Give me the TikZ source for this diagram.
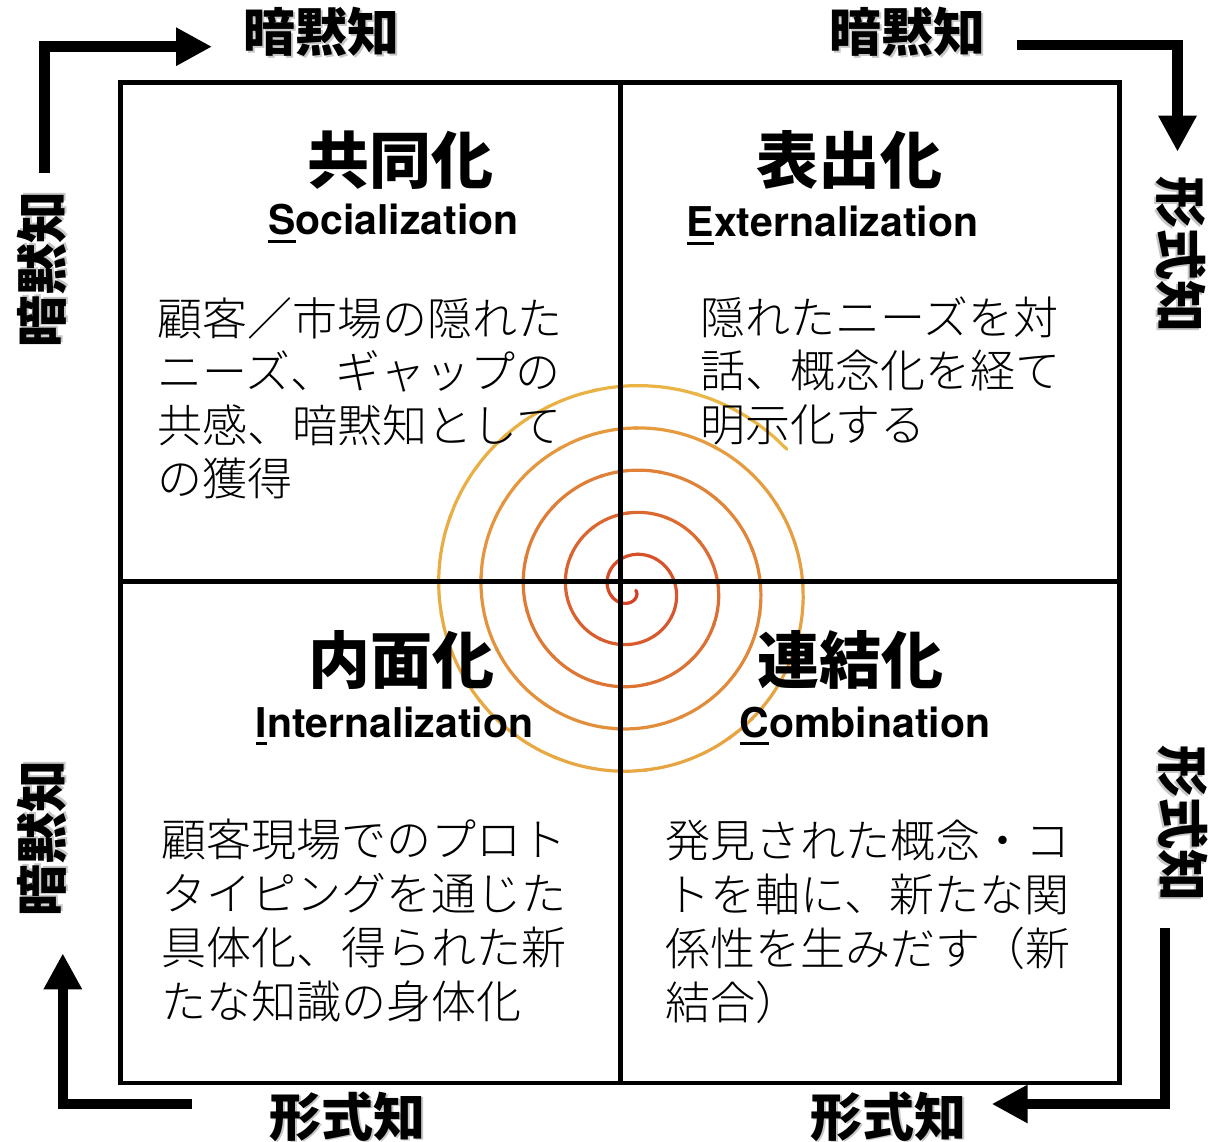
\documentclass[tikz,border=0pt]{standalone}
\usepackage{fontspec}
\usetikzlibrary{arrows.meta}

% Japanese faces: a light weight for running text when available
\IfFontExistsTF{Noto Sans CJK JP Light}
  {\newfontfamily\jplight{Noto Sans CJK JP Light}}
  {\newfontfamily\jplight{Noto Sans CJK JP}}
\newfontfamily\jp{Noto Sans CJK JP}
\newfontfamily\latinsans{TeX Gyre Heros}

% first letter underlined with a heavy bar
\newcommand\firstul[1]{\setbox0\hbox{#1}\rlap{\rule[-8pt]{\wd0}{3pt}}\box0}
% text with a soft grey drop shadow
\newcommand\shadowed[1]{\rlap{\hspace{1.8pt}\raisebox{-1.8pt}{\textcolor{black!22}{#1}}}#1}

\tikzset{
  frame/.style={line width=4.8pt, draw=black},
  flow/.style={line width=10.5pt, line join=miter, draw=black,
    -{Triangle[length=36pt,width=36pt]}},
  kind/.style={font=\jp\bfseries\fontsize{52}{60}\selectfont, inner sep=0pt, anchor=base},
  title/.style={font=\jp\bfseries\fontsize{62}{70}\selectfont, inner sep=0pt, anchor=base},
  mode/.style={font=\latinsans\bfseries\fontsize{41}{48}\selectfont, inner sep=0pt, anchor=base},
  % multi-line text blocks are placed by the baseline of their last line
  body/.style={font=\jplight\fontsize{45}{53.5}\selectfont, inner sep=0pt,
    anchor=base west, align=left},
  bodyloose/.style={font=\jplight\fontsize{45}{54}\selectfont},
  spiralline/.style={line width=3.2pt, line cap=round, line join=round},
}

\begin{document}
\begin{tikzpicture}[x=1pt, y=-1pt]
  \useasboundingbox (0,0) rectangle (1211,1142);
  \fill[white] (0,0) rectangle (1211,1142);

  % knowledge spiral (Archimedean, clockwise outwards, red core to golden rim)
  \foreach \k in {0,...,59}{
    \pgfmathsetmacro\ta{0.05+\k*0.0805}
    \pgfmathsetmacro\tb{\ta+0.0835}
    \pgfmathtruncatemacro\cr{212+22*\k/59}
    \pgfmathtruncatemacro\cg{62+120*\k/59}
    \pgfmathtruncatemacro\cb{38+32*\k/59}
    \definecolor{segc}{RGB}{\cr,\cg,\cb}
    \draw[spiralline, draw=segc]
      plot[domain=\ta:\tb, samples=7, variable=\t, smooth]
      ({631.5+(2.35+42.3*\t)*cos(360*\t)}, {589+(2.35+42.3*\t)*sin(360*\t)});
  }

  % SECI matrix
  \coordinate (nw) at (120.8,82.5);
  \coordinate (se) at (1119.7,1083);
  \coordinate (midtop) at (620.5,82.5);
  \coordinate (midbot) at (620.5,1083);
  \coordinate (midleft) at (120.8,581.5);
  \coordinate (midright) at (1119.7,581.5);
  \draw[frame] (nw) rectangle (se);
  \draw[frame] (midtop) -- (midbot);
  \draw[frame] (midleft) -- (midright);

  % axis labels around the matrix
  \node[kind] (tacitTL) at (321.5,51.5) {\shadowed{暗黙知}};
  \node[kind] (tacitTR) at (907.5,51.5) {\shadowed{暗黙知}};
  \node[kind] (explBL) at (347.5,1136) {\shadowed{形式知}};
  \node[kind] (explBR) at (888.5,1136) {\shadowed{形式知}};
  \node[kind, rotate=90] (tacitL1) at (61.5,269) {\shadowed{暗黙知}};
  \node[kind, rotate=90] (tacitL2) at (61.5,838.5) {\shadowed{暗黙知}};
  \node[kind, rotate=-90] (explR1) at (1161.5,255) {\shadowed{形式知}};
  \node[kind, rotate=-90] (explR2) at (1163.5,823.5) {\shadowed{形式知}};

  % conversion arrows
  \coordinate (a1s) at (44.7,173);  \coordinate (a1e) at (212,46.7);
  \coordinate (a2s) at (1016.7,45); \coordinate (a2e) at (1177.5,151.7);
  \coordinate (a3s) at (1165,928);  \coordinate (a3e) at (991.7,1104);
  \coordinate (a4s) at (191.7,1104); \coordinate (a4e) at (62.8,953.3);
  \draw[flow] (a1s) |- (a1e);
  \draw[flow] (a2s) -| (a2e);
  \draw[flow] (a3s) |- (a3e);
  \draw[flow] (a4s) -| (a4e);

  % quadrant headings
  \node[title] (socT) at (400,184) {共同化};
  \node[title] (extT) at (849.5,184) {表出化};
  \node[title] (intT) at (401,683) {内面化};
  \node[title] (comT) at (850,683) {連結化};

  \node[mode] (socE) at (393.5,235) {\firstul{S}ocialization};
  \node[mode] (extE) at (832.5,237) {\firstul{E}xternalization};
  \node[mode] (intE) at (394.5,737) {\firstul{I}nternalization};
  \node[mode] (comE) at (865,737) {\firstul{C}ombination};

  % quadrant descriptions
  \node[body] (socB) at (157.5,495.5)
    {顧客／市場の隠れた\\ニーズ、ギャップの\\共感、暗黙知として\\の獲得};
  \node[body] (extB) at (700.5,441)
    {隠れたニーズを対\\話、概念化を経て\\明示化する};
  \node[body, bodyloose] (intB) at (161.5,1018)
    {顧客現場でのプロト\\タイピングを通じた\\具体化、得られた新\\たな知識の身体化};
  \node[body, bodyloose] (comB) at (665.5,1019)
    {発見された概念・コ\\トを軸に、新たな関\\係性を生みだす（新\\結合）};
\end{tikzpicture}
\end{document}
